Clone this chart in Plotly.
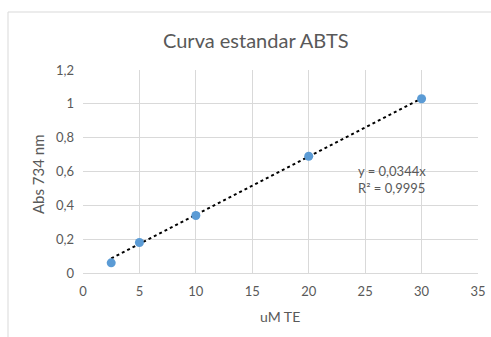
import plotly.graph_objects as go

x_vals = [2.5, 5, 10, 20, 30]
y_vals = [0.06, 0.18, 0.34, 0.69, 1.03]
slope = 0.0344
trend_x = [2.5, 30]
title = "Curva estandar ABTS"
x_title = "uM TE"
y_title = "Abs 734 nm"
eq_text = "y = 0,0344x<br>R² = 0,9995"

font_fam = "Lato, Open Sans, sans-serif"
grey = "#595959"

L, R, T, B = 83, 13, 70, 64
W, H = 491, 337
pw, ph = W - L - R, H - T - B

def px_x(p):
    return (p - L) / pw

def px_y(p):
    return (H - B - p) / ph

fig = go.Figure()
fig.add_trace(go.Scatter(x=trend_x, y=[slope * v for v in trend_x], mode="lines",
                         line=dict(color="black", width=2, dash="dot"), showlegend=False))
fig.add_trace(go.Scatter(x=x_vals, y=y_vals, mode="markers",
                         marker=dict(color="#5B9BD5", size=9), showlegend=False))

fig.update_layout(
    width=W, height=H,
    margin=dict(l=L, r=R, t=T, b=B, autoexpand=False),
    paper_bgcolor="white", plot_bgcolor="white",
    separators=",.",
    font=dict(family=font_fam, color=grey, size=13),
    xaxis=dict(range=[0, 35], dtick=5, showgrid=True, gridcolor="#D9D9D9", gridwidth=1,
               zeroline=False, showline=True, linecolor="#D9D9D9", automargin=False,
               ticks="", ticklabelstandoff=6),
    yaxis=dict(range=[0, 1.2], dtick=0.2, showgrid=True, gridcolor="#D9D9D9", gridwidth=1,
               zeroline=False, showline=False, ticks="", automargin=False, ticklabelstandoff=8),
    shapes=[dict(type="rect", xref="paper", yref="paper",
                 x0=px_x(8), x1=px_x(496), y0=px_y(342), y1=px_y(12),
                 line=dict(color="#D9D9D9", width=1), fillcolor="rgba(0,0,0,0)", layer="below")],
    annotations=[
        dict(x=24.2, y=0.55, xref="x", yref="y", text=eq_text, showarrow=False,
             xanchor="left", yanchor="middle", align="left",
             font=dict(size=13, color=grey, family=font_fam)),
        dict(x=px_x(256), y=px_y(40), xref="paper", yref="paper", text=title, showarrow=False,
             xanchor="center", yanchor="middle", font=dict(size=20, color=grey, family=font_fam)),
        dict(x=px_x(280), y=px_y(316), xref="paper", yref="paper", text=x_title, showarrow=False,
             xanchor="center", yanchor="middle", font=dict(size=14, color=grey, family=font_fam)),
        dict(x=px_x(38), y=px_y(174), xref="paper", yref="paper", text=y_title, showarrow=False,
             textangle=-90, xanchor="center", yanchor="middle",
             font=dict(size=15, color=grey, family=font_fam)),
    ],
)

fig.write_html("out.html", config={"displayModeBar": False},
               post_script="document.body.style.margin='0';document.body.style.overflow='hidden';")
